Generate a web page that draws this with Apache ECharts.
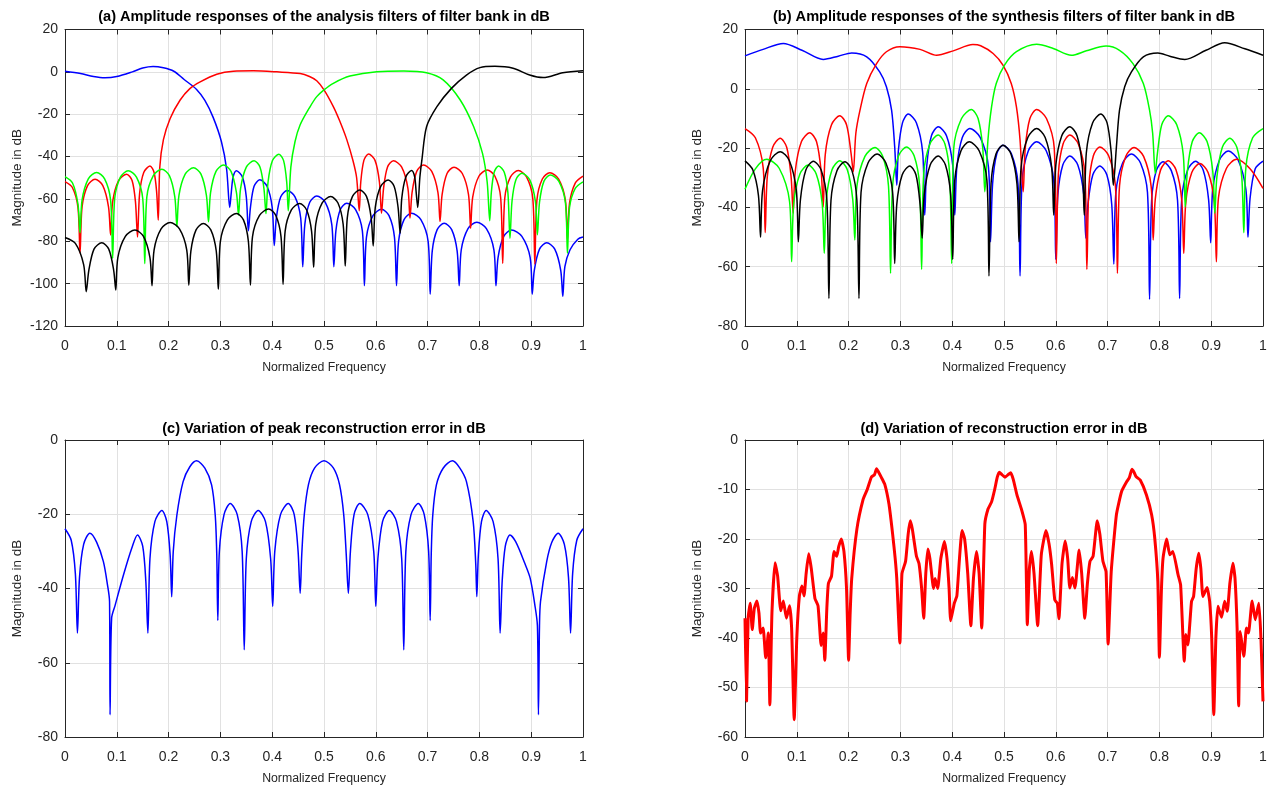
<!DOCTYPE html>
<html>
<head>
<meta charset="utf-8">
<title>Filter bank amplitude responses</title>
<script src="https://cdn.jsdelivr.net/npm/echarts@6/dist/echarts.min.js"></script>
<style>
  html, body { margin: 0; padding: 0; background: #fff; }
  #chart { width: 1271px; height: 787px; }
</style>
</head>
<body>
<div id="chart"></div>
<script>
// tick values
const freqTicks = [0, 0.1, 0.2, 0.3, 0.4, 0.5, 0.6, 0.7, 0.8, 0.9, 1]
const dbTicksA = [-120, -100, -80, -60, -40, -20, 0, 20]
const dbTicksB = [-80, -60, -40, -20, 0, 20]
const dbTicksC = [-80, -60, -40, -20, 0]
const dbTicksD = [-60, -50, -40, -30, -20, -10, 0]

const titles = [
  '(a) Amplitude responses of the analysis filters of filter bank in dB',
  '(b) Amplitude responses of the synthesis filters of filter bank in dB',
  '(c) Variation of peak reconstruction error in dB',
  '(d) Variation of reconstruction error in dB'
]

// (a) analysis filters, points are [normalized frequency, dB]
const anaBlue = [
  [0, 0.3], [0.03, -0.8], [0.055, -2.2], [0.077, -2.8], [0.1, -2.2], [0.13, 0], [0.15, 1.8], [0.17, 2.5], [0.19, 1.9], [0.21, 0.3],
  [0.23, -3.6], [0.254, -8.3], [0.27, -13.5], [0.286, -21.5], [0.302, -33], [0.312, -46], [0.318, -64], [0.321, -57],
  [0.3245, -49.7], [0.331, -46.7], [0.3425, -49.7], [0.35, -59], [0.354, -75], [0.358, -64],
  [0.365, -54], [0.376, -51], [0.39, -54], [0.4, -64], [0.404, -82], [0.408, -69],
  [0.4165, -59], [0.429, -56], [0.444, -59], [0.455, -69], [0.459, -92], [0.463, -72],
  [0.4725, -61.6], [0.486, -58.6], [0.5025, -61.6], [0.515, -72], [0.519, -92], [0.523, -75],
  [0.5315, -65], [0.544, -62], [0.561, -65], [0.574, -75], [0.578, -101], [0.582, -78],
  [0.5945, -67.9], [0.611, -64.9], [0.6255, -67.9], [0.636, -78], [0.64, -101], [0.644, -80],
  [0.6545, -69.8], [0.669, -66.8], [0.687, -69.8], [0.701, -80], [0.705, -105], [0.709, -84.5],
  [0.7185, -74.5], [0.732, -71.5], [0.7465, -74.5], [0.757, -84.5], [0.761, -101], [0.765, -84],
  [0.778, -74], [0.795, -71], [0.8135, -74], [0.828, -84], [0.832, -101], [0.836, -87.7],
  [0.847, -77.7], [0.862, -74.7], [0.882, -77.7], [0.898, -87.7], [0.902, -105], [0.906, -93.7],
  [0.916, -83.7], [0.93, -80.7], [0.9455, -83.7], [0.957, -93.7], [0.961, -106], [0.965, -92],
  [0.975, -84], [0.99, -79], [1, -78]
]
const anaRed = [
  [0, -51.8], [0.014, -54.5], [0.025, -64], [0.029, -85.7], [0.033, -63.7],
  [0.0435, -53.7], [0.058, -50.7], [0.073, -53.7], [0.084, -63.7], [0.088, -77], [0.092, -61.3],
  [0.1035, -51.3], [0.119, -48.3], [0.1295, -51.3], [0.136, -61.3], [0.14, -78], [0.144, -57.5],
  [0.152, -47.5], [0.164, -44.5], [0.172, -47.5], [0.177, -57], [0.18, -70],
  [0.183, -45], [0.19, -32], [0.203, -22], [0.222, -13.4], [0.241, -7.9], [0.261, -4.7], [0.293, -1.1], [0.325, 0.3],
  [0.364, 0.5], [0.409, 0], [0.454, -0.8], [0.472, -2.2], [0.486, -4.2], [0.5, -8.5], [0.518, -16.4], [0.53, -23],
  [0.544, -32], [0.556, -42], [0.563, -50], [0.568, -65.6], [0.571, -52],
  [0.577, -41.8], [0.586, -38.8], [0.5985, -41.8], [0.607, -52], [0.611, -66.8], [0.615, -55],
  [0.6225, -45], [0.634, -42], [0.65, -45], [0.662, -55], [0.666, -69], [0.67, -57],
  [0.679, -47], [0.692, -44], [0.708, -47], [0.72, -57], [0.724, -70.7], [0.728, -58],
  [0.7375, -48], [0.751, -45], [0.767, -48], [0.779, -58], [0.783, -73.9], [0.787, -59.3],
  [0.799, -49.3], [0.815, -46.3], [0.83, -49.3], [0.841, -59.3], [0.845, -90.4], [0.849, -59.6],
  [0.86, -49.6], [0.875, -46.6], [0.891, -49.6], [0.903, -59.6], [0.907, -90.7], [0.911, -60.6],
  [0.9215, -50.6], [0.936, -47.6], [0.953, -50.6], [0.966, -60.6], [0.97, -79.4], [0.974, -62],
  [0.985, -52.5], [1, -49.2]
]
const anaGreen = [
  [0, -49.5], [0.0145, -52.5], [0.025, -62.5], [0.029, -76], [0.033, -60.5],
  [0.045, -50.5], [0.061, -47.5], [0.0765, -50.5], [0.088, -60.5], [0.092, -88], [0.096, -59.7],
  [0.107, -49.7], [0.122, -46.7], [0.138, -49.7], [0.15, -59.7], [0.154, -90.5], [0.158, -59],
  [0.1705, -49], [0.187, -46], [0.2015, -49], [0.212, -59], [0.216, -73], [0.22, -58.3],
  [0.232, -48.3], [0.248, -45.3], [0.2625, -48.3], [0.273, -58.3], [0.277, -70.8], [0.281, -57],
  [0.2915, -47], [0.306, -44], [0.3205, -47], [0.331, -57], [0.335, -67.6], [0.339, -55],
  [0.35, -45], [0.365, -42], [0.3765, -45], [0.384, -55], [0.388, -66.9], [0.392, -52],
  [0.4005, -41.9], [0.413, -38.9], [0.422, -41.9], [0.428, -52], [0.431, -65.6],
  [0.436, -45], [0.444, -33], [0.454, -25], [0.473, -16.5], [0.486, -11.7], [0.5, -8.5], [0.518, -5.4], [0.55, -2],
  [0.602, 0.1], [0.654, 0.4], [0.698, -0.4], [0.73, -3.8], [0.763, -13.3], [0.789, -25.9], [0.806, -38.5], [0.815, -52], [0.82, -70.3], [0.823, -57],
  [0.8285, -47.4], [0.837, -44.4], [0.848, -47.4], [0.855, -57], [0.859, -78.6], [0.863, -61],
  [0.8705, -50.9], [0.882, -47.9], [0.897, -50.9], [0.908, -61], [0.912, -76.9], [0.916, -61.7],
  [0.9245, -51.7], [0.937, -48.7], [0.9535, -51.7], [0.966, -61.7], [0.97, -85.7], [0.974, -64],
  [0.985, -55], [1, -51.9]
]
const anaBlack = [
  [0, -78.2], [0.02, -81], [0.036, -91], [0.041, -103.8], [0.046, -93.7],
  [0.056, -83.7], [0.071, -80.7], [0.0845, -83.7], [0.094, -93.7], [0.098, -103], [0.102, -87.7],
  [0.1165, -77.7], [0.135, -74.7], [0.1515, -77.7], [0.164, -87.7], [0.168, -101], [0.172, -84],
  [0.1855, -74.1], [0.203, -71.1], [0.221, -74.1], [0.235, -84], [0.239, -100.7], [0.243, -84.6],
  [0.253, -74.6], [0.267, -71.6], [0.2815, -74.6], [0.292, -84.6], [0.296, -102.7], [0.3, -80],
  [0.3135, -69.9], [0.331, -66.9], [0.3445, -69.9], [0.354, -80], [0.358, -100.7], [0.362, -77.8],
  [0.3755, -67.8], [0.393, -64.8], [0.407, -67.8], [0.417, -77.8], [0.421, -100.4], [0.425, -75.2],
  [0.437, -65.2], [0.453, -62.2], [0.4665, -65.2], [0.476, -75.2], [0.48, -92.3], [0.484, -72],
  [0.4965, -61.9], [0.513, -58.9], [0.527, -61.9], [0.537, -72], [0.541, -91.7], [0.545, -68.8],
  [0.555, -58.8], [0.569, -55.8], [0.582, -58.8], [0.591, -68.8], [0.595, -82.2], [0.599, -64],
  [0.6095, -54.1], [0.624, -51.1], [0.6355, -54.1], [0.643, -64], [0.647, -76.2], [0.65, -60],
  [0.658, -49.6], [0.669, -46.6], [0.675, -49.6], [0.678, -57], [0.681, -64],
  [0.685, -50], [0.689, -41.6], [0.698, -25.9], [0.718, -16.4], [0.746, -7.8], [0.775, -1.5], [0.801, 2], [0.83, 2.6],
  [0.865, 1.7], [0.897, -1.5], [0.923, -2.7], [0.961, -0.4], [1, 0.5]
]

// (b) synthesis filters
const synBlue = [
  [0, 11.1], [0.035, 13.3], [0.074, 15.3], [0.11, 13], [0.151, 9.9], [0.18, 11], [0.206, 12.1], [0.235, 10.8],
  [0.26, 5.7], [0.273, 0.7], [0.283, -7.2], [0.289, -19.6], [0.293, -32.5], [0.296, -21],
  [0.304, -11.5], [0.315, -8.5], [0.331, -11.5], [0.343, -21.5], [0.347, -42.6], [0.351, -25.8],
  [0.36, -15.8], [0.373, -12.8], [0.389, -15.8], [0.401, -25.8], [0.405, -42.6], [0.409, -26.4],
  [0.4195, -16.4], [0.434, -13.4], [0.454, -16.4], [0.47, -26.4], [0.474, -51.6], [0.478, -32],
  [0.486, -22], [0.498, -19], [0.5145, -22], [0.527, -32], [0.531, -63.1], [0.535, -31],
  [0.547, -20.9], [0.563, -17.9], [0.5815, -20.9], [0.596, -31], [0.6, -57.5], [0.604, -35.7],
  [0.6135, -25.7], [0.627, -22.7], [0.6425, -25.7], [0.654, -35.7], [0.658, -50.4], [0.662, -39],
  [0.6715, -29], [0.685, -26], [0.6985, -29], [0.708, -39], [0.712, -59.1], [0.716, -35],
  [0.729, -25], [0.746, -22], [0.7635, -25], [0.777, -35], [0.781, -71], [0.785, -37.6],
  [0.794, -27.6], [0.807, -24.6], [0.823, -27.6], [0.835, -37.6], [0.839, -70.7], [0.843, -37.4],
  [0.8545, -27.4], [0.87, -24.4], [0.8845, -27.4], [0.895, -37.4], [0.899, -51.9], [0.903, -34],
  [0.916, -24], [0.933, -21], [0.952, -24], [0.967, -34], [0.971, -50.1], [0.975, -37],
  [0.985, -27], [1, -24.4]
]
const synRed = [
  [0, -13.4], [0.02, -16.5], [0.035, -26.5], [0.039, -48.5], [0.043, -29.7],
  [0.0535, -19.7], [0.068, -16.7], [0.0805, -19.7], [0.089, -29.7], [0.093, -42], [0.097, -27.8],
  [0.109, -17.8], [0.125, -14.8], [0.138, -17.8], [0.147, -27.8], [0.151, -39.8], [0.155, -22.1],
  [0.167, -12.1], [0.183, -9.1], [0.196, -12.1], [0.205, -22.1], [0.209, -28],
  [0.214, -15], [0.222, -7.2], [0.235, 1.8], [0.254, 8.5], [0.273, 12.5], [0.299, 14.2], [0.338, 13.3], [0.37, 11.3],
  [0.402, 12.8], [0.44, 14.9], [0.455, 14.5], [0.479, 11.9], [0.498, 8], [0.514, 1.8], [0.524, -6.1], [0.531, -17.3], [0.537, -34.7], [0.541, -20],
  [0.55, -10], [0.563, -7], [0.582, -10], [0.597, -20], [0.601, -58.9], [0.605, -28.6],
  [0.614, -18.6], [0.627, -15.6], [0.6435, -18.6], [0.656, -28.6], [0.66, -60.9], [0.664, -32.6],
  [0.6725, -22.6], [0.685, -19.6], [0.702, -22.6], [0.715, -32.6], [0.719, -62.2], [0.723, -32.8],
  [0.735, -22.8], [0.751, -19.8], [0.7695, -22.8], [0.784, -32.8], [0.788, -51], [0.792, -37.3],
  [0.8025, -27.3], [0.817, -24.3], [0.832, -27.3], [0.843, -37.3], [0.847, -55.5], [0.851, -38.2],
  [0.8625, -28.2], [0.878, -25.2], [0.894, -28.2], [0.906, -38.2], [0.91, -58.3], [0.914, -36.8],
  [0.9295, -26.8], [0.949, -23.8], [0.975, -27], [1, -33.6]
]
const synGreen = [
  [0, -33.9], [0.02, -27], [0.042, -23.8], [0.066, -26.8], [0.086, -38], [0.09, -58.3], [0.094, -38.7],
  [0.106, -28.7], [0.122, -25.7], [0.1375, -28.7], [0.149, -38.7], [0.153, -55.5], [0.157, -37.3],
  [0.168, -27.3], [0.183, -24.3], [0.1975, -27.3], [0.208, -37.3], [0.212, -51], [0.216, -32.8],
  [0.2315, -22.8], [0.251, -19.8], [0.266, -22.8], [0.277, -32.8], [0.281, -62.2], [0.285, -32.6],
  [0.2965, -22.6], [0.312, -19.6], [0.3265, -22.6], [0.337, -32.6], [0.341, -60.9], [0.345, -28.6],
  [0.357, -18.6], [0.373, -15.6], [0.386, -18.6], [0.395, -28.6], [0.399, -58.9], [0.403, -20],
  [0.418, -10], [0.437, -7], [0.45, -10], [0.459, -20], [0.463, -34.7],
  [0.469, -17.3], [0.476, -6.1], [0.485, 1.8], [0.501, 8], [0.524, 12.5], [0.563, 15], [0.595, 13.6], [0.63, 11.3],
  [0.659, 12.8], [0.697, 14.4], [0.723, 13], [0.749, 8.5], [0.769, 1.8], [0.781, -7.2], [0.787, -15], [0.792, -28.5], [0.796, -22],
  [0.8045, -12.1], [0.817, -9.1], [0.8335, -12.1], [0.846, -22.1], [0.85, -39.8], [0.854, -27.8],
  [0.8635, -17.8], [0.877, -14.8], [0.892, -17.8], [0.903, -27.8], [0.907, -42], [0.911, -29.7],
  [0.9215, -19.7], [0.936, -16.7], [0.9495, -19.7], [0.959, -29.7], [0.963, -48.5], [0.967, -26.5],
  [0.98, -16.5], [1, -13.4]
]
const synBlack = [
  [0, -24.3], [0.015, -27.3], [0.026, -36], [0.03, -50.1], [0.034, -34.2],
  [0.049, -24.2], [0.068, -21.2], [0.0855, -24.2], [0.099, -34.2], [0.103, -51.6], [0.107, -37.4],
  [0.1175, -27.4], [0.132, -24.4], [0.147, -27.4], [0.158, -37.4], [0.162, -70.7], [0.166, -37.6],
  [0.1775, -27.6], [0.193, -24.6], [0.2065, -27.6], [0.216, -37.6], [0.22, -70.7], [0.224, -35],
  [0.2375, -25], [0.255, -22], [0.272, -25], [0.285, -35], [0.289, -58.9], [0.293, -39],
  [0.3035, -29], [0.318, -26], [0.33, -29], [0.338, -39], [0.342, -50.4], [0.346, -35.7],
  [0.3575, -25.7], [0.373, -22.7], [0.387, -25.7], [0.397, -35.7], [0.401, -57.5], [0.405, -30.9],
  [0.417, -20.9], [0.433, -17.9], [0.452, -20.9], [0.467, -30.9], [0.471, -63.1], [0.475, -32],
  [0.4845, -22], [0.498, -19], [0.5135, -22], [0.525, -32], [0.529, -51.6], [0.533, -26.4],
  [0.546, -16.4], [0.563, -13.4], [0.5795, -16.4], [0.592, -26.4], [0.596, -42.6], [0.6, -25.8],
  [0.6115, -15.8], [0.627, -12.8], [0.641, -15.8], [0.651, -25.8], [0.655, -42.6], [0.659, -21.5],
  [0.671, -11.5], [0.687, -8.5], [0.699, -11.5], [0.707, -21.5], [0.711, -32.5],
  [0.717, -19.6], [0.723, -7.2], [0.733, 0.7], [0.746, 5.7], [0.769, 10.8], [0.797, 12.1], [0.82, 11], [0.849, 9.9],
  [0.89, 13], [0.926, 15.5], [0.965, 13.5], [1, 11.3]
]

// (c) peak reconstruction error
const peakErr = [
  [0, -23.9], [0.012, -27], [0.02, -36], [0.024, -52], [0.028, -37],
  [0.036, -28.1], [0.048, -25.1], [0.061, -27.5], [0.074, -32.7], [0.082, -39], [0.086, -43.5], [0.087, -74],
  [0.09, -48], [0.097, -44.4], [0.113, -36.3], [0.129, -29.1], [0.14, -25.6], [0.15, -28.6], [0.156, -38], [0.16, -52], [0.164, -32],
  [0.1735, -22], [0.187, -19], [0.1965, -22], [0.203, -31], [0.206, -42.2], [0.209, -30],
  [0.216, -20.2], [0.228, -11.2], [0.241, -7.2], [0.254, -5.6], [0.27, -7.6], [0.283, -12.1], [0.29, -20.2], [0.293, -31], [0.295, -48.6], [0.298, -30],
  [0.307, -20.1], [0.319, -17.1], [0.3325, -20.1], [0.342, -30], [0.346, -56.5], [0.35, -32],
  [0.3595, -22], [0.373, -19], [0.387, -22], [0.397, -32], [0.401, -44.8], [0.405, -30],
  [0.416, -20.1], [0.431, -17.1], [0.4425, -20.1], [0.45, -30], [0.454, -41.3],
  [0.457, -31], [0.462, -20], [0.47, -12], [0.482, -7.5], [0.5, -5.6], [0.518, -7.5], [0.53, -12], [0.538, -20], [0.543, -31], [0.547, -41.3], [0.551, -30],
  [0.558, -20.1], [0.569, -17.1], [0.5845, -20.1], [0.596, -30], [0.6, -44.8], [0.604, -32],
  [0.613, -22], [0.626, -19], [0.64, -22], [0.65, -32], [0.654, -56.5], [0.658, -30],
  [0.668, -20.1], [0.682, -17.1], [0.6935, -20.1], [0.702, -30], [0.705, -48.6],
  [0.707, -31], [0.71, -20.2], [0.717, -12.1], [0.73, -7.6], [0.748, -5.6], [0.762, -7.5], [0.775, -11.2], [0.788, -22], [0.793, -33.6], [0.795, -42.2], [0.798, -31],
  [0.804, -22], [0.813, -19], [0.8265, -22], [0.836, -32], [0.84, -52], [0.844, -38],
  [0.85, -28.6], [0.859, -25.6], [0.87, -27.4], [0.887, -33], [0.898, -37.2], [0.907, -44.4], [0.912, -50], [0.914, -74],
  [0.916, -50], [0.918, -43.5], [0.93, -32.7], [0.94, -27.5], [0.952, -25.1], [0.964, -28.1], [0.972, -37], [0.976, -52], [0.98, -36],
  [0.988, -27], [1, -23.9]
]

// (d) reconstruction error
const reconErr = [
  [0, -36], [0.003, -52.8], [0.006, -36], [0.01, -33], [0.014, -38.3], [0.018, -34], [0.023, -32.5], [0.027, -35],
  [0.03, -39], [0.035, -38], [0.04, -44], [0.045, -39], [0.048, -53.5], [0.052, -35], [0.058, -24.8], [0.063, -27.5],
  [0.069, -34.5], [0.074, -32.5], [0.08, -36], [0.086, -33.5], [0.09, -38], [0.095, -56.5], [0.1, -40], [0.105, -31.5],
  [0.11, -29.5], [0.114, -31.5], [0.118, -27], [0.123, -23], [0.128, -26], [0.135, -32], [0.141, -33.5], [0.147, -41.5],
  [0.151, -39], [0.154, -44.5], [0.158, -34], [0.161, -29], [0.167, -27.5], [0.172, -22.5], [0.177, -23.5], [0.181, -21.5],
  [0.186, -20], [0.191, -22.5], [0.196, -30], [0.2, -44.5], [0.203, -35], [0.206, -28], [0.216, -18], [0.228, -12],
  [0.236, -10], [0.244, -7.5], [0.25, -7], [0.254, -5.8], [0.258, -6.5], [0.263, -7.5], [0.27, -9], [0.278, -13],
  [0.285, -19], [0.29, -24], [0.293, -28], [0.299, -41], [0.303, -27], [0.31, -24.5], [0.315, -19], [0.319, -16.3],
  [0.323, -18], [0.331, -23.5], [0.336, -25], [0.341, -30], [0.345, -36], [0.349, -27], [0.353, -22], [0.357, -24],
  [0.364, -30], [0.367, -28], [0.372, -30], [0.378, -24], [0.385, -20.5], [0.39, -24], [0.394, -30], [0.397, -36.5],
  [0.404, -33], [0.409, -31.5], [0.414, -24], [0.419, -18.3], [0.424, -20], [0.43, -27], [0.436, -37.5], [0.441, -28],
  [0.447, -22.5], [0.452, -27], [0.457, -38], [0.463, -17], [0.469, -14], [0.476, -12.5], [0.482, -10], [0.487, -7.5],
  [0.491, -6.5], [0.496, -7], [0.502, -7.5], [0.508, -7], [0.513, -6.6], [0.518, -8], [0.525, -11.1], [0.534, -14.1],
  [0.541, -17.1], [0.545, -37.3], [0.549, -26], [0.553, -22.5], [0.558, -27], [0.565, -37.5], [0.572, -23.2], [0.581, -18.3],
  [0.587, -21], [0.592, -25.2], [0.598, -32.3], [0.603, -33], [0.606, -36.1], [0.612, -25], [0.618, -20.4], [0.623, -24],
  [0.627, -29.9], [0.632, -27.8], [0.637, -29.9], [0.645, -22.2], [0.65, -27], [0.656, -36], [0.661, -29], [0.666, -24.5],
  [0.672, -23.5], [0.68, -16.3], [0.685, -19], [0.691, -24.5], [0.697, -26.6], [0.701, -41.2], [0.707, -26.6], [0.717, -15.1],
  [0.727, -10.4], [0.737, -8.4], [0.742, -7.6], [0.747, -5.9], [0.751, -6.5], [0.755, -7.4], [0.763, -8.1], [0.775, -11.1],
  [0.785, -15.1], [0.791, -19.8], [0.797, -28.6], [0.8, -43.9], [0.804, -30], [0.807, -23.9], [0.814, -20], [0.82, -23.2],
  [0.826, -22.5], [0.836, -27.2], [0.841, -29.3], [0.848, -44.7], [0.851, -39.3], [0.855, -41.4], [0.862, -32.6], [0.866, -31.6],
  [0.871, -26], [0.876, -22.9], [0.88, -26], [0.884, -31.6], [0.892, -29.8], [0.897, -32.6], [0.901, -40], [0.905, -55.5],
  [0.909, -40], [0.913, -33.6], [0.92, -35.8], [0.926, -32.6], [0.931, -34.6], [0.936, -29], [0.942, -24.9], [0.946, -28],
  [0.95, -38], [0.953, -53.7], [0.956, -38.7], [0.963, -43.7], [0.968, -38], [0.972, -39], [0.979, -32.5], [0.985, -36.3],
  [0.992, -33], [0.996, -40], [1, -52.8]
]

const BLUE = '#0000ff'
const RED = '#ff0000'
const GREEN = '#00ff00'
const BLACK = '#000000'
const AXIS = '#262626'
const GRIDLINE = '#e1e1e1'
const FONT = "'Liberation Sans', Arial, sans-serif"

const panels = [
  { rect: { left: 65, top: 29.5, width: 518, height: 296.5 }, titleTop: 9, ticks: dbTicksA, title: titles[0], width: 1.5, smooth: 0.3,
    lines: [[anaBlue, BLUE], [anaRed, RED], [anaGreen, GREEN], [anaBlack, BLACK]] },
  { rect: { left: 745, top: 29.5, width: 518, height: 296.5 }, titleTop: 9, ticks: dbTicksB, title: titles[1], width: 1.5, smooth: 0.3,
    lines: [[synBlue, BLUE], [synRed, RED], [synGreen, GREEN], [synBlack, BLACK]] },
  { rect: { left: 65, top: 440, width: 518, height: 297 }, titleTop: 421, ticks: dbTicksC, title: titles[2], width: 1.5, smooth: 0.3,
    lines: [[peakErr, BLUE]] },
  { rect: { left: 745, top: 440, width: 518, height: 297 }, titleTop: 421, ticks: dbTicksD, title: titles[3], width: 3, smooth: 0.15,
    lines: [[reconErr, RED]] }
]

const tickStep = (t) => t[1] - t[0]

const buildOption = () => {
  const grid = []
  const xAxis = []
  const yAxis = []
  const series = []
  const title = []

  panels.forEach((p, i) => {
    grid.push({ ...p.rect, containLabel: false })
    title.push({
      text: p.title,
      left: p.rect.left + p.rect.width / 2,
      top: p.titleTop,
      textAlign: 'center',
      padding: 0,
      textStyle: { fontFamily: FONT, fontSize: 14.6, fontWeight: 'bold', color: '#000' }
    })

    const xBase = {
      gridIndex: i,
      type: 'value',
      min: freqTicks[0],
      max: freqTicks[freqTicks.length - 1],
      interval: tickStep(freqTicks),
      axisLine: { show: true, onZero: false, lineStyle: { color: AXIS, width: 1 } },
      axisTick: { show: true, inside: true, length: 5, lineStyle: { color: AXIS } }
    }
    xAxis.push({
      ...xBase,
      position: 'bottom',
      name: 'Normalized Frequency',
      nameLocation: 'middle',
      nameGap: 36,
      nameTextStyle: { fontFamily: FONT, fontSize: 12.3, color: AXIS },
      axisLabel: { fontFamily: FONT, fontSize: 14, color: AXIS, margin: 13, formatter: (v) => String(+v.toFixed(1)) },
      splitLine: { show: true, lineStyle: { color: GRIDLINE, width: 1 } }
    })
    xAxis.push({ ...xBase, position: 'top', axisLabel: { show: false }, splitLine: { show: false } })

    const yBase = {
      gridIndex: i,
      type: 'value',
      min: p.ticks[0],
      max: p.ticks[p.ticks.length - 1],
      interval: tickStep(p.ticks),
      axisLine: { show: true, onZero: false, lineStyle: { color: AXIS, width: 1 } },
      axisTick: { show: true, inside: true, length: 5, lineStyle: { color: AXIS } }
    }
    yAxis.push({
      ...yBase,
      position: 'left',
      name: 'Magnitude in dB',
      nameLocation: 'middle',
      nameGap: 41,
      nameTextStyle: { fontFamily: FONT, fontSize: 13.5, color: AXIS },
      axisLabel: { fontFamily: FONT, fontSize: 14, color: AXIS, margin: 7 },
      splitLine: { show: true, lineStyle: { color: GRIDLINE, width: 1 } }
    })
    yAxis.push({ ...yBase, position: 'right', axisLabel: { show: false }, splitLine: { show: false } })

    p.lines.forEach(([data, color]) => {
      series.push({
        type: 'line',
        xAxisIndex: i * 2,
        yAxisIndex: i * 2,
        data,
        showSymbol: false,
        smooth: p.smooth,
        lineStyle: { color, width: p.width },
        itemStyle: { color },
        emphasis: { disabled: true },
        silent: true
      })
    })
  })

  return { backgroundColor: '#ffffff', animation: false, title, grid, xAxis, yAxis, series }
}

const chart = echarts.init(document.getElementById('chart'), null, { renderer: 'canvas' })
chart.setOption(buildOption())
</script>
</body>
</html>
